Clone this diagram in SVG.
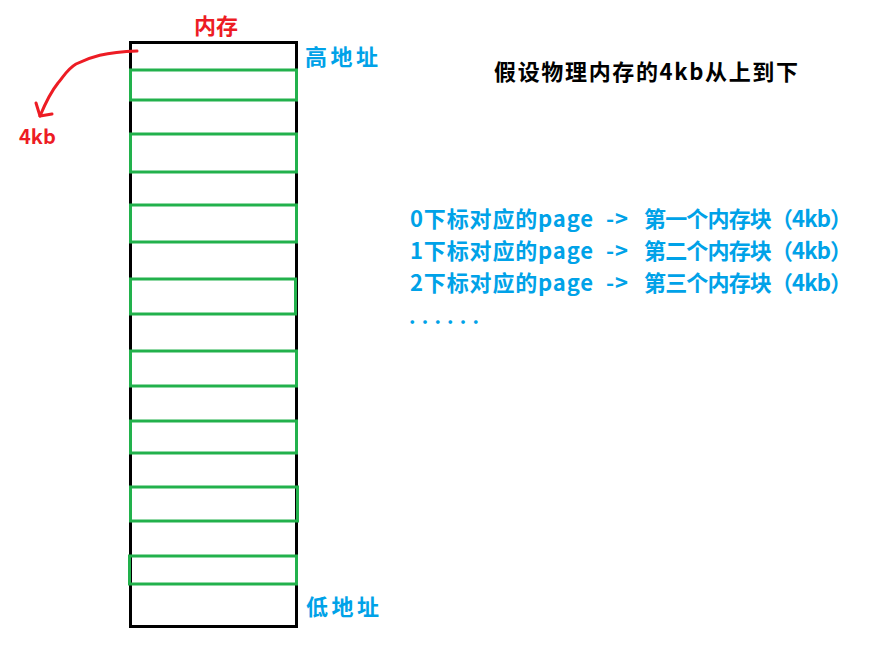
<svg xmlns="http://www.w3.org/2000/svg" width="890" height="666" viewBox="0 0 890 666">
<style>
text{font-family:"Noto Sans CJK SC","Noto Sans",sans-serif;font-weight:bold}
.red{fill:#ed1c24}
.blue{fill:#00a2e8}
.blk{fill:#000}
.blockg{fill:none;stroke:#22b14c;stroke-width:3}
.mem{fill:#fff;stroke:#000;stroke-width:3}
</style>
<rect width="890" height="666" fill="#fff"/>
<g id="memory">
<rect class="mem" x="130.5" y="42.5" width="166" height="584"/>
</g>
<g id="blocks">
<rect class="blockg" x="130.5" y="70" width="166" height="30"/>
<rect class="blockg" x="130.5" y="134" width="166" height="38"/>
<rect class="blockg" x="130.5" y="205" width="166" height="37"/>
<rect class="blockg" x="130.5" y="279" width="165" height="35"/>
<rect class="blockg" x="130.5" y="351" width="166" height="35"/>
<rect class="blockg" x="130.5" y="421" width="166" height="32"/>
<rect class="blockg" x="130.5" y="487" width="167" height="34"/>
<rect class="blockg" x="129.5" y="556" width="167" height="28"/>
</g>
<g id="labels">
<text class="red" x="216" y="34" font-size="22" text-anchor="middle">内存</text>
<text class="blue" x="305" y="65" font-size="22" textLength="73">高地址</text>
<text class="blue" x="306" y="615" font-size="22" textLength="73">低地址</text>
<text class="red" x="19" y="144" font-size="20">4kb</text>
<text class="blk" x="494" y="80" font-size="22" textLength="304">假设物理内存的4kb从上到下</text>
</g>
<g id="legend">
<text class="blue" y="227" font-size="22"><tspan x="410" textLength="183">0下标对应的page</tspan><tspan x="606" textLength="22">-&gt;</tspan><tspan x="644" textLength="208">第一个内存块（4kb）</tspan></text>
<text class="blue" y="259" font-size="22"><tspan x="410" textLength="183">1下标对应的page</tspan><tspan x="606" textLength="22">-&gt;</tspan><tspan x="644" textLength="208">第二个内存块（4kb）</tspan></text>
<text class="blue" y="291" font-size="22"><tspan x="410" textLength="183">2下标对应的page</tspan><tspan x="606" textLength="22">-&gt;</tspan><tspan x="644" textLength="208">第三个内存块（4kb）</tspan></text>
<text class="blue" x="409" y="324" font-size="20" textLength="70">......</text>
</g>
<g id="connectors" fill="none" stroke="#ed1c24" stroke-width="3" stroke-linecap="round" stroke-linejoin="round">
<path d="M137 51 C105 52 90 57 76 64 C66 70 63 78 58 83 C50 93 45 104 40 116"/>
<path d="M36 103 L40 116 L52 114"/>
</g>
</svg>
